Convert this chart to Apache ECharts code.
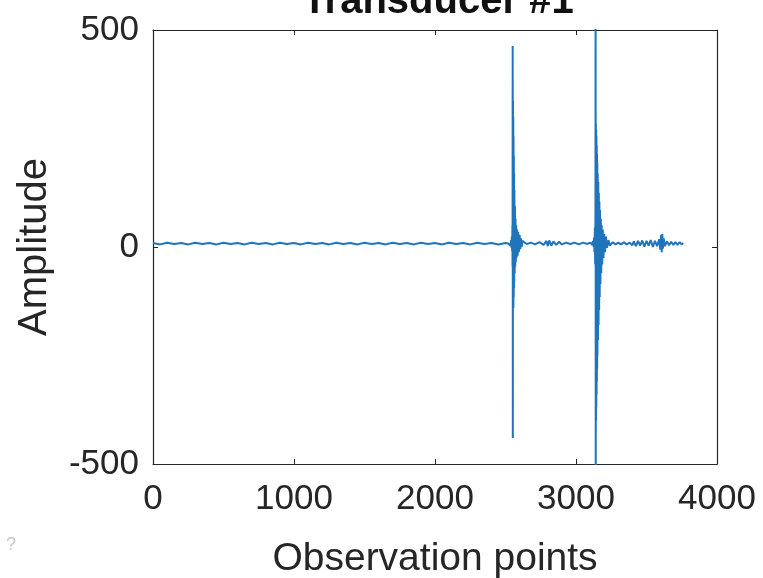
<!DOCTYPE html>
<html>
<head>
<meta charset="utf-8">
<title>Transducer #1</title>
<script src="https://cdn.jsdelivr.net/npm/echarts@6/dist/echarts.min.js"></script>
<style>
  html,body{margin:0;padding:0;background:#fff;}
  #chartContain{width:763px;height:578px;}
</style>
</head>
<body>
<div id="chartContain"></div>
<script>
// axis ticks
var xTicks = [0, 1000, 2000, 3000, 4000];
var yTicks = [-500, 0, 500];

// quiet part before the first echo [observation point, amplitude]
var quietLead = [
  [0,9],[50,6],[100,10],[150,7],[200,9],[250,6],[300,10],[350,7],[400,9],[450,6],
  [500,10],[550,7],[600,9],[650,6],[700,10],[750,7],[800,9],[850,6],[900,10],[950,7],
  [1000,9],[1050,6],[1100,10],[1150,7],[1200,9],[1250,6],[1300,10],[1350,7],[1400,9],[1450,6],
  [1500,10],[1550,7],[1600,9],[1650,6],[1700,10],[1750,7],[1800,9],[1850,6],[1900,10],[1950,7],
  [2000,9],[2050,6],[2100,10],[2150,7],[2200,9],[2250,6],[2300,10],[2350,7],[2400,9],[2450,6],
  [2500,9]
];

// first echo (~2550)
var echoOne = [
  [2520,8],[2530,12],[2535,3],[2540,16],[2543,-2],[2545,24],[2547,-10],[2549,50],[2550,-45],
  [2551,463],[2552,-440],[2553,337],[2554,-125],[2555,300],[2556,-140],[2557,255],[2558,-115],
  [2559,210],[2560,-95],[2561,170],[2562,-80],[2563,130],[2565,-60],[2567,95],[2569,-45],
  [2571,65],[2573,-35],[2576,50],[2579,-25],[2582,40],[2586,-20],[2590,35],[2595,-12],
  [2600,28],[2605,-5],[2610,20],[2615,0],[2620,14]
];

// between the echoes
var quietMid = [
  [2650,7],[2680,10],[2710,6],[2740,11],[2770,5],[2790,14],[2800,2],[2810,15],[2825,3],
  [2840,13],[2860,5],[2880,12],[2900,6],[2930,10],[2960,7],[2990,10],[3020,6],[3050,10],
  [3080,7],[3100,10],[3115,5]
];

// second echo (~3140)
var echoTwo = [
  [3120,14],[3125,0],[3128,22],[3131,-12],[3134,45],[3136,-40],[3138,90],[3139,560],[3140,-520],
  [3141,285],[3142,-400],[3143,270],[3144,-370],[3145,255],[3146,-340],[3147,235],[3148,-310],
  [3149,215],[3150,-280],[3151,195],[3152,-250],[3154,170],[3156,-215],[3158,150],[3160,-180],
  [3162,125],[3164,-145],[3166,105],[3168,-115],[3170,85],[3173,-85],[3176,65],[3179,-60],
  [3182,50],[3186,-40],[3190,40],[3195,-25],[3200,30],[3206,-12],[3212,24],[3220,-2],
  [3230,16],[3240,3]
];

// tail
var quietTail = [
  [3260,11],[3280,6],[3300,10],[3320,6],[3340,11],[3360,6],[3380,10],[3400,4],[3410,13],
  [3425,2],[3440,14],[3455,3],[3470,15],[3485,1],[3500,14],[3515,3],[3530,16],[3545,0],
  [3560,14],[3575,2],[3590,18],[3598,-6],[3604,28],[3608,-12],[3612,30],[3616,-4],[3622,20],
  [3630,2],[3645,13],[3660,4],[3675,12],[3690,5],[3705,11],[3720,5],[3735,11],[3750,6],[3760,9]
];

var signal = quietLead.concat(echoOne, quietMid, echoTwo, quietTail);

var font = "'Liberation Sans', Arial, sans-serif";
var ink = '#262626';
var plainNum = function (v) { return String(v); };

var line = echarts.init(document.getElementById('chartContain'));
var option = {
  animation: false,
  backgroundColor: '#fff',
  grid: {left: 153, right: 46, top: 30, bottom: 114, outerBoundsMode: 'none', containLabel: false},
  graphic: [
    {type: 'text', x: 438, y: 22, style: {text: 'Transducer #1', fill: '#111', font: 'bold 40px ' + font, textAlign: 'center', textVerticalAlign: 'bottom'}},
    {type: 'text', x: 6, y: 536, style: {text: '?', fill: '#c8c8c8', font: '18px ' + font}}
  ],
  xAxis: [{
    type: 'value', min: xTicks[0], max: xTicks[xTicks.length - 1], interval: 1000,
    name: 'Observation points', nameLocation: 'middle', nameGap: 76,
    nameTextStyle: {color: ink, fontSize: 39, fontFamily: font},
    axisLine: {show: true, onZero: false, lineStyle: {color: ink, width: 1.2}},
    axisTick: {show: true, inside: true, length: 5, lineStyle: {color: ink}},
    axisLabel: {color: ink, fontSize: 35, fontFamily: font, margin: 18, formatter: plainNum},
    splitLine: {show: false}
  }, {
    type: 'value', position: 'top', min: 0, max: 4000, interval: 1000,
    axisLine: {show: true, onZero: false, lineStyle: {color: ink, width: 1.2}},
    axisTick: {show: true, inside: true, length: 5, lineStyle: {color: ink}},
    axisLabel: {show: false}, splitLine: {show: false}
  }],
  yAxis: [{
    type: 'value', min: yTicks[0], max: yTicks[yTicks.length - 1], interval: 500,
    name: 'Amplitude', nameLocation: 'middle', nameGap: 98,
    nameTextStyle: {color: ink, fontSize: 40, fontFamily: font},
    axisLine: {show: true, onZero: false, lineStyle: {color: ink, width: 1.2}},
    axisTick: {show: true, inside: true, length: 5, lineStyle: {color: ink}},
    axisLabel: {color: ink, fontSize: 35, fontFamily: font, margin: 14, formatter: plainNum},
    splitLine: {show: false}
  }, {
    type: 'value', position: 'right', min: -500, max: 500, interval: 500,
    axisLine: {show: true, onZero: false, lineStyle: {color: ink, width: 1.2}},
    axisTick: {show: true, inside: true, length: 5, lineStyle: {color: ink}},
    axisLabel: {show: false}, splitLine: {show: false}
  }],
  series: [{
    type: 'line',
    data: signal,
    showSymbol: false,
    clip: true,
    lineStyle: {color: '#1f74bb', width: 2},
    itemStyle: {color: '#1f74bb'}
  }]
};
line.setOption(option);
</script>
</body>
</html>
